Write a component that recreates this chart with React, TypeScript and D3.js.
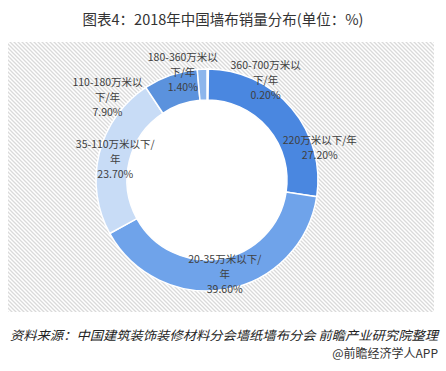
import React from 'react'
import * as d3 from 'd3'

const categories = ['360-700万米以下/年', '220万米以下/年', '20-35万米以下/年', '35-110万米以下/年', '110-180万米以下/年', '180-360万米以下/年']
const shares = [0.2, 27.2, 39.6, 23.7, 7.9, 1.4]
// label text split the way the original wraps it
const labelLines = [
  ['360-700万米以', '下/年'],
  ['220万米以下/年'],
  ['20-35万米以下/', '年'],
  ['35-110万米以下/', '年'],
  ['110-180万米以', '下/年'],
  ['180-360万米以', '下/年'],
]
const colors = ['#a9c8f0', '#4a87e0', '#6fa3ea', '#c8dcf6', '#5b92dd', '#8db6ec']
// nudges from the ring centroid, like Excel's best-fit placement
const labelNudge = [[58, -4], [40, 30], [1, 0], [1, 2], [-68, 7], [-20, -12]]

const W = 446
const H = 371
const cx = 207
const cy = 180
const outerR = 111
const innerR = 80
const lineH = 15

const App = () => {
  const pie = d3.pie<number>().sort(null).value(d => d)
  const arcs = pie(shares)
  const arc = d3.arc<d3.PieArcDatum<number>>().innerRadius(innerR).outerRadius(outerR)
  const fmt = d3.format('.2f')

  return (
    <svg width={W} height={H} style={{ position: 'absolute', left: 0, top: 0, background: '#fff' }}
      fontFamily='"Noto Sans CJK SC", "Noto Sans", sans-serif'>
      <defs>
        <pattern id="hatch" width="4" height="4" patternUnits="userSpaceOnUse">
          <rect width="4" height="4" fill="#fff" />
          <path d="M-1,-1 L5,5 M-1,3 L1,5 M3,-1 L5,1" stroke="#dadada" strokeWidth="1.3" />
        </pattern>
      </defs>
      <text x={W / 2} y={25} textAnchor="middle" fontSize={14.5} fill="#333">
        图表4：2018年中国墙布销量分布(单位：%)
      </text>
      <rect x={8} y={42} width={426} height={270} fill="url(#hatch)" />
      <g transform={`translate(${cx},${cy})`}>
        <circle r={innerR} fill="#fff" />
        {arcs.map((a, i) => (
          <path key={categories[i]} d={arc(a) || ''} fill={colors[i]} stroke="#fff" strokeWidth={1.5} />
        ))}
        {arcs.map((a, i) => {
          const [x, y] = arc.centroid(a)
          const lines = [...labelLines[i], fmt(shares[i]) + '%']
          const lx = x + labelNudge[i][0]
          const ly = y + labelNudge[i][1] - ((lines.length - 1) * lineH) / 2
          return (
            <text key={'l' + i} x={lx} y={ly} textAnchor="middle" fontSize={10.5} fill="#404040">
              {lines.map((t, j) => (
                <tspan key={j} x={lx} y={ly + j * lineH} dy="0.35em">{t}</tspan>
              ))}
            </text>
          )
        })}
      </g>
      <text x={10} y={340} fontSize={12.5} fill="#222" fontStyle="italic" textLength={428} lengthAdjust="spacingAndGlyphs">
        资料来源：中国建筑装饰装修材料分会墙纸墙布分会 前瞻产业研究院整理
      </text>
      <text x={438} y={358} textAnchor="end" fontSize={12} fill="#333">@前瞻经济学人APP</text>
    </svg>
  )
}

export default App
